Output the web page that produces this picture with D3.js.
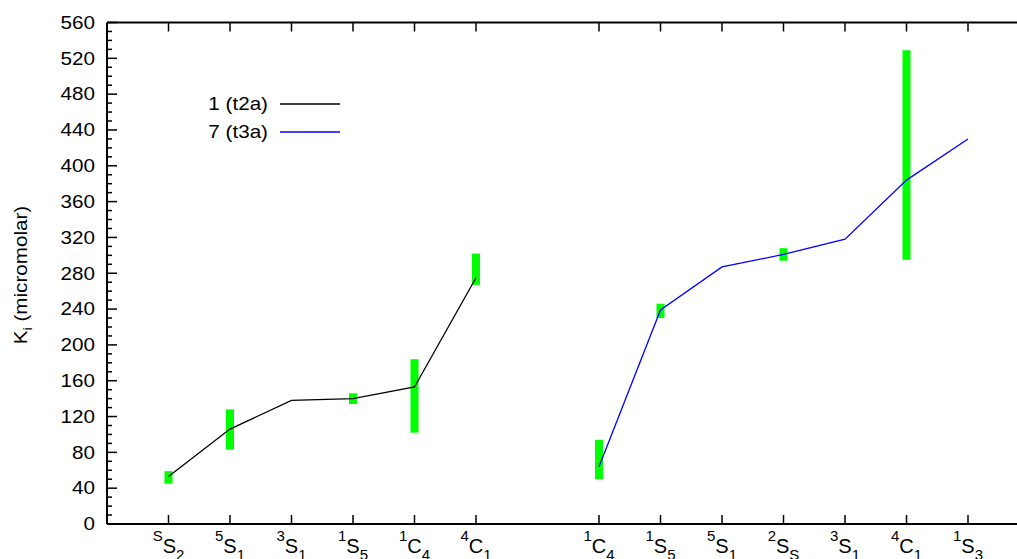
<!DOCTYPE html>
<html>
<head>
<meta charset="utf-8">
<script src="https://cdn.jsdelivr.net/npm/d3@7"></script>
<style>
  html, body { margin: 0; padding: 0; background: #fff; }
  svg { display: block; }
  text { font-family: "Liberation Sans", Arial, sans-serif; fill: #000; }
</style>
</head>
<body>
<svg id="chart" width="1017" height="559"></svg>
<script>
// Conformer labels: [superscript, letter, subscript]
const labels1 = [["S","S","2"],["5","S","1"],["3","S","1"],["1","S","5"],["1","C","4"],["4","C","1"]];
const labels7 = [["1","C","4"],["1","S","5"],["5","S","1"],["2","S","S"],["3","S","1"],["4","C","1"],["1","S","3"]];

// Positions of each conformer along the x axis
const pos1 = [1, 2, 3, 4, 5, 6];
const pos7 = [8, 9, 10, 11, 12, 13, 14];

// Computed Ki values (micromolar)
const ki1 = [53, 106, 138, 140, 153, 275];
const ki7 = [64, 239, 287, 301, 318, 384, 430];

// Experimental ranges (green bars): position, low, high
const rangePos  = [1, 2, 4, 5, 6, 8, 9, 11, 13];
const rangeLow  = [45, 83, 134, 102, 267, 50, 230, 294, 295];
const rangeHigh = [59, 128, 146, 184, 302, 94, 246, 308, 529];

const yTicks = d3.range(0, 561, 40);
const yMinor = d3.range(0, 561, 10);

const seriesNames = ["1 (t2a)", "7 (t3a)"];
const seriesColors = ["#000000", "#0000ff"];

const svg = d3.select("#chart");
const mLeft = 107, mTop = 22.5, mBottom = 524;
const stretch = 1.18; // wide horizontal text proportions
const x = d3.scaleLinear().domain([0, 15]).range([mLeft, mLeft + 15 * 61.5]);
const y = d3.scaleLinear().domain([0, 560]).range([mBottom, mTop]);

// Green range bars
svg.append("g").selectAll("rect")
  .data(rangePos.map((p, i) => ({p, lo: rangeLow[i], hi: rangeHigh[i]})))
  .join("rect")
  .attr("x", d => x(d.p) - 4)
  .attr("width", 8)
  .attr("y", d => y(d.hi))
  .attr("height", d => y(d.lo) - y(d.hi))
  .attr("fill", "#00ff00");

// Lines
const line = d3.line().x(d => x(d[0])).y(d => y(d[1]));
svg.append("path")
  .attr("d", line(pos1.map((p, i) => [p, ki1[i]])))
  .attr("fill", "none").attr("stroke", seriesColors[0]).attr("stroke-width", 1.3);
svg.append("path")
  .attr("d", line(pos7.map((p, i) => [p, ki7[i]])))
  .attr("fill", "none").attr("stroke", seriesColors[1]).attr("stroke-width", 1.3);

// Frame
const frame = svg.append("g").attr("stroke", "#000").attr("stroke-width", 2).attr("fill", "none");
frame.append("line").attr("x1", mLeft).attr("x2", mLeft).attr("y1", mTop).attr("y2", mBottom);
frame.append("line").attr("x1", mLeft).attr("x2", 1017).attr("y1", mBottom).attr("y2", mBottom);
frame.append("line").attr("x1", mLeft).attr("x2", 1017).attr("y1", mTop).attr("y2", mTop);

// Y axis ticks (inward) and labels
const yAxis = svg.append("g").attr("stroke", "#000").attr("stroke-width", 1.5);
yAxis.selectAll("line").data(yMinor).join("line")
  .attr("x1", mLeft).attr("x2", d => mLeft + (d % 40 === 0 ? 10 : 5))
  .attr("y1", d => y(d)).attr("y2", d => y(d));
svg.append("g").selectAll("text").data(yTicks).join("text")
  .attr("transform", d => `translate(95,${y(d)}) scale(${stretch},1)`)
  .attr("dy", "0.36em")
  .attr("text-anchor", "end").attr("font-size", 17.5)
  .text(d => d);

// X axis ticks (bottom and top, inward)
const allPos = pos1.concat(pos7);
const allLabels = labels1.concat(labels7);
const xAxisB = svg.append("g").attr("stroke", "#000").attr("stroke-width", 1.5);
xAxisB.selectAll("line").data(allPos).join("line")
  .attr("x1", d => x(d)).attr("x2", d => x(d)).attr("y1", mBottom).attr("y2", mBottom - 9);
const xAxisT = svg.append("g").attr("stroke", "#000").attr("stroke-width", 1.5);
xAxisT.selectAll("line").data(allPos).join("line")
  .attr("x1", d => x(d)).attr("x2", d => x(d)).attr("y1", mTop).attr("y2", mTop + 9);

const xl = svg.append("g").selectAll("text").data(allPos.map((p, i) => ({p, l: allLabels[i]})))
  .join("text")
  .attr("x", d => x(d.p)).attr("y", 553)
  .attr("text-anchor", "middle").attr("font-size", 20);
xl.append("tspan").attr("font-size", 15).attr("dy", -12).text(d => d.l[0]);
xl.append("tspan").attr("dy", 12).text(d => d.l[1]);
xl.append("tspan").attr("font-size", 15).attr("dy", 7).text(d => d.l[2]);

// Y axis title
const yt = svg.append("text")
  .attr("transform", `translate(27,275) rotate(-90) scale(${stretch},1)`)
  .attr("text-anchor", "middle").attr("font-size", 17.5);
yt.append("tspan").text("K");
yt.append("tspan").attr("font-size", 12).attr("dy", 5).text("i");
yt.append("tspan").attr("dy", -5).text(" (micromolar)");

// Legend
const legend = svg.append("g");
seriesNames.forEach((name, i) => {
  const ly = 104 + i * 28;
  legend.append("text")
    .attr("transform", `translate(268,${ly}) scale(${stretch},1)`)
    .attr("dy", "0.36em")
    .attr("text-anchor", "end").attr("font-size", 17.5).text(name);
  legend.append("line").attr("x1", 280).attr("x2", 340).attr("y1", ly).attr("y2", ly)
    .attr("stroke", seriesColors[i]).attr("stroke-width", 1.3);
});
</script>
</body>
</html>
